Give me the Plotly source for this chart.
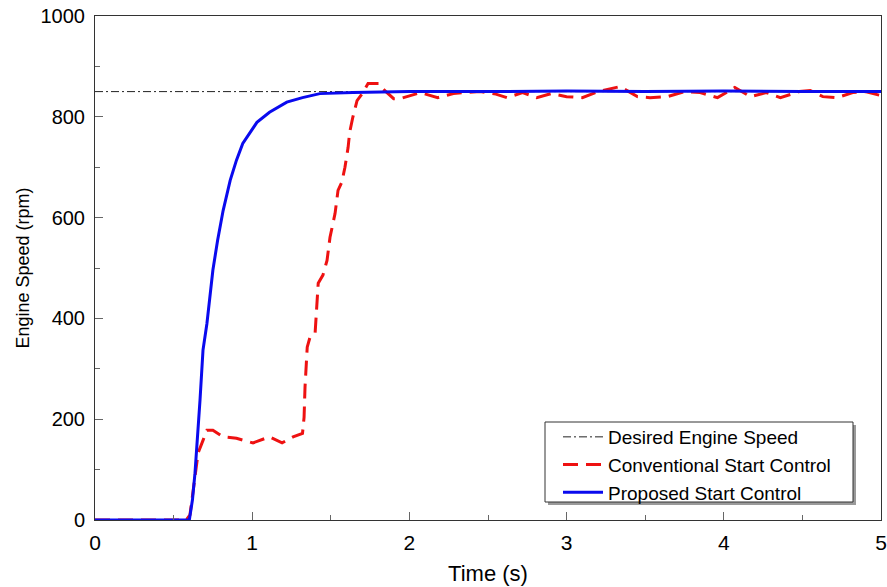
import plotly.graph_objects as go

# ---- data ----
desired_t = [0, 5]
desired_rpm = [850, 850]

proposed_t = [0, 0.60, 0.62, 0.636, 0.668, 0.687, 0.712, 0.73, 0.75, 0.78, 0.815, 0.86,
              0.90, 0.94, 0.986, 1.03, 1.11, 1.22, 1.32, 1.43, 1.64, 2.0, 2.5, 3.0, 3.5,
              4.0, 4.5, 5.0]
proposed_rpm = [0, 0, 40, 93, 238, 337, 390, 436, 496, 555, 614, 674,
                714, 747, 769, 789, 809, 829, 838, 846, 848, 850, 850, 851, 850,
                851, 850, 850]

conventional_t = [0, 0.58, 0.604, 0.656, 0.687, 0.712, 0.75, 0.815, 0.90, 1.005, 1.11,
                  1.19, 1.26, 1.32, 1.33, 1.336, 1.35, 1.368, 1.40, 1.41, 1.42, 1.45,
                  1.476, 1.495, 1.527, 1.546, 1.57, 1.59, 1.61, 1.62, 1.64, 1.667, 1.70,
                  1.737, 1.81, 1.83, 1.90, 1.94, 2.0, 2.07, 2.18, 2.28, 2.34, 2.45, 2.55,
                  2.62, 2.72, 2.81, 2.9, 3.0, 3.1, 3.2, 3.34, 3.45, 3.53, 3.64, 3.75,
                  3.85, 3.96, 4.07, 4.17, 4.27, 4.36, 4.48, 4.55, 4.63, 4.72, 4.82, 4.9,
                  5.0]
conventional_rpm = [0, 0, 10, 133, 158, 178, 178, 165, 162, 153, 165,
                    153, 165, 172, 204, 264, 343, 363, 370, 416, 470, 486,
                    515, 561, 608, 654, 670, 700, 739, 769, 799, 832, 846,
                    866, 866, 856, 836, 836, 842, 848, 838, 846, 848, 850, 845,
                    838, 848, 838, 846, 840, 838, 850, 860, 840, 838, 840, 850,
                    848, 838, 858, 840, 848, 838, 850, 852, 840, 838, 848, 850,
                    842]

x_ticks = [0, 1, 2, 3, 4, 5]
y_ticks = [0, 200, 400, 600, 800, 1000]

FONT = "Liberation Sans, Arial, sans-serif"

fig = go.Figure()
fig.add_trace(go.Scatter(x=desired_t, y=desired_rpm, mode="lines",
                         name="Desired Engine Speed",
                         line=dict(color="#222222", width=1, dash="8px,3px,2px,3px")))
fig.add_trace(go.Scatter(x=conventional_t, y=conventional_rpm, mode="lines",
                         name="Conventional Start Control",
                         line=dict(color="#ee1111", width=3, dash="15px,8px")))
fig.add_trace(go.Scatter(x=proposed_t, y=proposed_rpm, mode="lines",
                         name="Proposed Start Control",
                         line=dict(color="#0a0aee", width=3)))

W, H = 887, 587
L, R, T, B = 95, 6, 16, 67
pw, ph = W - L - R, H - T - B

def px(xp):  # window pixel -> paper x
    return (xp - L) / pw

def py(yp):  # window pixel -> paper y
    return (H - B - yp) / ph

# legend frame with shadow
shapes = [
    dict(type="rect", xref="paper", yref="paper",
         x0=px(548), x1=px(856), y0=py(505), y1=py(425),
         fillcolor="#9a9a9a", line=dict(width=0), layer="above"),
    dict(type="rect", xref="paper", yref="paper",
         x0=px(545), x1=px(853), y0=py(502), y1=py(422),
         fillcolor="white", line=dict(color="#333333", width=1), layer="above"),
]

fig.update_layout(
    width=W, height=H,
    margin=dict(l=L, r=R, t=T, b=B),
    paper_bgcolor="white", plot_bgcolor="white",
    font=dict(family=FONT, color="black"),
    shapes=shapes,
    showlegend=True,
    legend=dict(x=px(558), y=py(418), xanchor="left", yanchor="top",
                bgcolor="rgba(0,0,0,0)", borderwidth=0,
                font=dict(size=19, family=FONT), itemwidth=40,
                tracegroupgap=0),
    xaxis=dict(range=[0, 5], tickvals=x_ticks, ticks="inside", ticklen=8,
               tickcolor="#666666", tickwidth=1,
               minor=dict(dtick=0.5, ticks="inside", ticklen=5, tickcolor="#666666"),
               showgrid=False, zeroline=False, showline=True, linecolor="#333333",
               linewidth=1, mirror=True, tickfont=dict(size=21),
               ticklabelstandoff=4, automargin=False,
               title=dict(text="Time (s)", font=dict(size=22), standoff=12)),
    yaxis=dict(range=[0, 1000], tickvals=y_ticks, ticks="inside", ticklen=8,
               tickcolor="#666666", tickwidth=1,
               minor=dict(dtick=100, ticks="inside", ticklen=5, tickcolor="#666666"),
               showgrid=False, zeroline=False, showline=True, linecolor="#333333",
               linewidth=1, mirror=True, tickfont=dict(size=20), automargin=False,
               ticklabelstandoff=5,
               title=dict(text="Engine Speed (rpm)", font=dict(size=18), standoff=6)),
)

# remove the default 8px page margin so the figure fills the window exactly
fig.write_html("out.html",
               config={"displayModeBar": False},
               post_script="document.body.style.margin='0';document.body.style.overflow='hidden';")
